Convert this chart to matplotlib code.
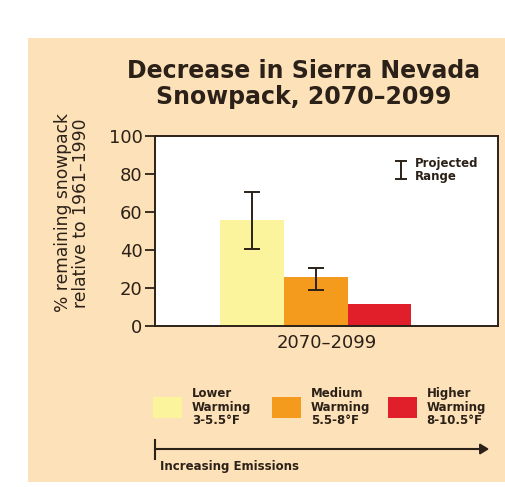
import numpy as np
import matplotlib
matplotlib.use('Agg')
import matplotlib.pyplot as plt
from matplotlib.patches import Rectangle, FancyArrow

# data
scenarios = ['Lower\nWarming\n3-5.5°F', 'Medium\nWarming\n5.5-8°F', 'Higher\nWarming\n8-10.5°F']
remaining = [56, 26, 11.5]
range_lo = [40.5, 19, None]
range_hi = [70.5, 30.5, None]
bar_colors = ['#fcf49c', '#f49b1e', '#e11f2b']
period = '2070–2099'
yticks = [0, 20, 40, 60, 80, 100]

beige = '#fde1b8'
ink = '#2b2118'
narrow = ['Liberation Sans Narrow', 'DejaVu Sans']

fig = plt.figure(figsize=(5.05, 4.87), dpi=100)
fig.patch.set_facecolor('white')
fig.patches.append(Rectangle((0.0554, 0.010), 0.945, 0.912, transform=fig.transFigure,
                             facecolor=beige, edgecolor='none', zorder=-5))

ax = fig.add_axes([0.307, 0.3306, 0.679, 0.3901])
ax.set_facecolor('white')

x = np.arange(len(remaining))
ax.bar(x, remaining, width=1.0, color=bar_colors, edgecolor='none', zorder=2)
for xi, lo, hi, v in zip(x, range_lo, range_hi, remaining):
    if lo is None:
        continue
    ax.errorbar(xi, v, yerr=[[v - lo], [hi - v]], fmt='none', ecolor=ink,
                elinewidth=1.4, capsize=6, capthick=1.4, zorder=3)

ax.set_xlim(-1.52, 3.86)
ax.set_ylim(0, 100)
ax.set_yticks(yticks)
ax.set_xticks([(-1.52 + 3.86) / 2])
ax.set_xticklabels([period], fontsize=13, color=ink)
ax.tick_params(axis='x', length=0, pad=6)
ax.tick_params(axis='y', length=7, width=1.3, colors=ink, labelsize=13, pad=2)
for s in ax.spines.values():
    s.set_color(ink)
    s.set_linewidth(1.4)

ax.set_ylabel('% remaining snowpack\nrelative to 1961–1990', fontsize=12.3,
              color=ink, linespacing=1.0)
ax.yaxis.set_label_coords(-0.191, 0.595)

# projected range key
ax.errorbar(2.34, 82, yerr=4.7, fmt='none', ecolor=ink, elinewidth=1.4,
            capsize=4, capthick=1.4)
ax.text(2.55, 82, 'Projected\nRange', fontsize=8.5, family=narrow, fontweight='bold',
        color=ink, va='center', ha='left', linespacing=0.95)

fig.text(0.602, 0.828, 'Decrease in Sierra Nevada\nSnowpack, 2070–2099', ha='center',
         va='center', fontsize=17, fontweight='bold', color=ink, linespacing=1.1)

# bottom legend
sw_x = [0.303, 0.539, 0.768]
for sx, c, lab in zip(sw_x, bar_colors, scenarios):
    fig.patches.append(Rectangle((sx, 0.142), 0.058, 0.043, transform=fig.transFigure,
                                 facecolor=c, edgecolor='none'))
    fig.text(sx + 0.077, 0.164, lab, fontsize=8.5, family=narrow, fontweight='bold',
             color=ink, va='center', ha='left', linespacing=1.05)

fig.add_artist(plt.Line2D([0.307, 0.955], [0.078, 0.078], color=ink, lw=1.5))
fig.add_artist(plt.Line2D([0.307, 0.307], [0.058, 0.097], color=ink, lw=1.5))
fig.patches.append(FancyArrow(0.950, 0.078, 0.016, 0, width=0.001,
                   head_width=0.02, head_length=0.016, transform=fig.transFigure,
                   color=ink, length_includes_head=True))
fig.text(0.317, 0.043, 'Increasing Emissions', fontsize=8.5, family=narrow,
         fontweight='bold', color=ink, va='center', ha='left')

fig.savefig('out.png', dpi=100, facecolor=fig.get_facecolor())
